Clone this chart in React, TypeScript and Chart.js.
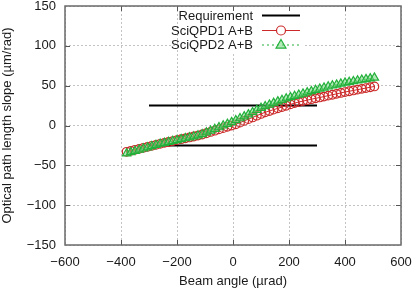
import React, { useEffect, useRef } from "react";
import { Chart, registerables } from "chart.js";

Chart.register(...registerables);

const xTicks = [-600, -400, -200, 0, 200, 400, 600];
const yTicks = [-150, -100, -50, 0, 50, 100, 150];

const requirementX = [-300, 300, 0, -300, 300];
const requirementY: (number | null)[] = [25, 25, null, -25, -25];

const beamAngle = [
  -380, -365, -350, -335, -320, -305, -290, -275, -260, -245, -230, -215, -200, -185, -170, -155, -140, -125, -110, -95,
  -80, -65, -50, -35, -20, -5, 10, 25, 40, 55, 70, 85, 100, 115, 130, 145, 160, 175, 190, 205,
  220, 235, 250, 265, 280, 295, 310, 325, 340, 355, 370, 385, 400, 415, 430, 445, 460, 475, 490, 505,
];

const sciQPD1 = [
  -33, -31.8, -30.5, -29.3, -28, -26.8, -25.5, -24.3, -23, -21.8, -20.7, -19.5, -18.4, -17.2, -16.1, -15, -13.8, -12.6, -11.3, -9.7,
  -8.1, -6.5, -4.9, -3.3, -1.7, -0.1, 1.5, 3.6, 5.8, 8, 10.1, 12.3, 14.5, 16.6, 18.2, 19.9, 21.5, 23.2, 24.8, 26.5,
  28.1, 29.5, 30.6, 31.8, 33, 34.1, 35.2, 36.3, 37.5, 38.6, 39.7, 40.9, 42, 43, 44, 45, 46, 47, 48, 49,
];

const sciQPD2 = [
  -35, -33.5, -32, -30.5, -29, -27.5, -26, -24.5, -23, -21.9, -20.7, -19.6, -18.4, -17.3, -16.1, -15, -13.8, -12.6, -11, -8.8,
  -6.6, -4.5, -2.3, -0.1, 2, 4.2, 6.6, 9, 11.4, 13.9, 16.6, 19.3, 22, 24.1, 26.2, 28.3, 30.2, 32, 33.8, 35.5,
  37, 38.5, 40, 41.5, 43, 44.5, 46, 47.5, 48.8, 50.1, 51.3, 52.5, 53.7, 54.6, 55.5, 56.4, 57.3, 58.2, 59.1, 60,
];

const labels = ["Requirement", "SciQPD1 A+B", "SciQPD2 A+B"];
const xTitle = "Beam angle (µrad)";
const yTitle = "Optical path length slope (µm/rad)";

const RED = "#cc2a2a";
const GREEN = "#22b03a";
const GREEN_FILL = "rgba(120,215,130,0.55)";
const FONT = "'Liberation Sans', Arial, sans-serif";

const fmt = (v: number) => (v < 0 ? "\u2212" + Math.abs(v) : String(v));

const framePlugin = {
  id: "frameAndKey",
  afterDatasetsDraw(chart: any) {
    const { ctx, chartArea: a, scales } = chart;
    const xs = scales.x;
    const ys = scales.y;
    ctx.save();
    // legend box (opaque)
    ctx.fillStyle = "#ffffff";
    ctx.fillRect(180, 7, 124, 46);
    ctx.font = "13px " + FONT;
    ctx.textAlign = "right";
    ctx.textBaseline = "middle";
    ctx.fillStyle = "#1a1a1a";
    const rows = [15.5, 30.5, 45];
    const ds = chart.data.datasets;
    rows.forEach((yy, i) => {
      ctx.fillText(ds[i].label, 253, yy + 0.5);
    });
    // Requirement sample
    ctx.strokeStyle = "#000";
    ctx.lineWidth = 2;
    ctx.beginPath();
    ctx.moveTo(262, rows[0]);
    ctx.lineTo(300, rows[0]);
    ctx.stroke();
    // SciQPD1 sample
    ctx.strokeStyle = RED;
    ctx.lineWidth = 1.2;
    ctx.beginPath();
    ctx.moveTo(262, rows[1]);
    ctx.lineTo(300, rows[1]);
    ctx.stroke();
    ctx.beginPath();
    ctx.arc(281, rows[1], 4.5, 0, Math.PI * 2);
    ctx.fillStyle = "#fff";
    ctx.fill();
    ctx.stroke();
    // SciQPD2 sample
    ctx.strokeStyle = GREEN;
    ctx.setLineDash([2, 3]);
    ctx.beginPath();
    ctx.moveTo(262, rows[2]);
    ctx.lineTo(300, rows[2]);
    ctx.stroke();
    ctx.setLineDash([]);
    ctx.beginPath();
    const r = 5.5;
    ctx.moveTo(281, rows[2] - r);
    ctx.lineTo(281 + r * 0.9, rows[2] + r * 0.55);
    ctx.lineTo(281 - r * 0.9, rows[2] + r * 0.55);
    ctx.closePath();
    ctx.fillStyle = GREEN_FILL;
    ctx.fill();
    ctx.stroke();

    // inward ticks
    ctx.strokeStyle = "#555";
    ctx.lineWidth = 1;
    ctx.beginPath();
    xTicks.slice(1, -1).forEach((v) => {
      const px = Math.round(xs.getPixelForValue(v)) + 0.5;
      ctx.moveTo(px, a.bottom);
      ctx.lineTo(px, a.bottom - 5);
      ctx.moveTo(px, a.top);
      ctx.lineTo(px, a.top + 5);
    });
    yTicks.slice(1, -1).forEach((v) => {
      const py = Math.round(ys.getPixelForValue(v)) + 0.5;
      ctx.moveTo(a.left, py);
      ctx.lineTo(a.left + 5, py);
      ctx.moveTo(a.right, py);
      ctx.lineTo(a.right - 5, py);
    });
    ctx.stroke();
    // frame
    ctx.strokeStyle = "#6a6a6a";
    ctx.lineWidth = 1.5;
    ctx.strokeRect(a.left, a.top, a.right - a.left, a.bottom - a.top);
    ctx.restore();
  },
};

export default function App() {
  const ref = useRef<HTMLCanvasElement | null>(null);
  useEffect(() => {
    if (!ref.current) return;
    const chart = new Chart(ref.current, {
      type: "line",
      data: {
        datasets: [
          {
            label: labels[0],
            data: requirementX.map((x, i) => ({ x, y: requirementY[i] })),
            borderColor: "#000",
            borderWidth: 2,
            pointRadius: 0,
            spanGaps: false,
            order: 3,
          },
          {
            label: labels[1],
            data: beamAngle.map((x, i) => ({ x, y: sciQPD1[i] })),
            borderColor: RED,
            borderWidth: 1,
            pointStyle: "circle",
            pointRadius: 4.3,
            pointBorderWidth: 1.2,
            pointBorderColor: RED,
            pointBackgroundColor: "rgba(255,255,255,0)",
            order: 2,
          },
          {
            label: labels[2],
            data: beamAngle.map((x, i) => ({ x, y: sciQPD2[i] })),
            borderColor: GREEN,
            borderWidth: 1,
            borderDash: [2, 3],
            pointStyle: "triangle",
            pointRadius: 4.8,
            pointBorderWidth: 1.2,
            pointBorderColor: GREEN,
            pointBackgroundColor: GREEN_FILL,
            order: 1,
          },
        ] as any,
      },
      options: {
        animation: false,
        responsive: false,
        devicePixelRatio: 1,
        layout: { padding: { top: 5, right: 14, left: 0, bottom: 0 } },
        plugins: { legend: { display: false }, tooltip: { enabled: false } },
        scales: {
          x: {
            type: "linear",
            min: -600,
            max: 600,
            afterFit: (s: any) => {
              s.height = 45;
              s.paddingLeft = 0;
              s.paddingRight = 0;
            },
            afterBuildTicks: (s: any) => {
              s.ticks = xTicks.map((v) => ({ value: v }));
            },
            ticks: {
              callback: (v: any) => fmt(Number(v)),
              font: { family: FONT, size: 13 },
              color: "#1a1a1a",
              padding: 10,
              maxRotation: 0,
              autoSkip: false,
            },
            grid: { color: "#c4c4c4", drawTicks: false, lineWidth: 1 },
            border: { display: false, dash: [2, 2] },
            title: {
              display: true,
              text: xTitle,
              font: { family: FONT, size: 13 },
              color: "#1a1a1a",
              padding: { top: 0, bottom: 1 },
            },
          },
          y: {
            type: "linear",
            min: -150,
            max: 150,
            afterFit: (s: any) => {
              s.width = 65;
              s.paddingTop = 0;
              s.paddingBottom = 0;
            },
            afterBuildTicks: (s: any) => {
              s.ticks = yTicks.map((v) => ({ value: v }));
            },
            ticks: {
              callback: (v: any) => fmt(Number(v)),
              font: { family: FONT, size: 13 },
              color: "#1a1a1a",
              padding: 9,
              autoSkip: false,
            },
            grid: { color: "#c4c4c4", drawTicks: false, lineWidth: 1 },
            border: { display: false, dash: [2, 2] },
            title: {
              display: true,
              text: yTitle,
              font: { family: FONT, size: 13 },
              color: "#1a1a1a",
              padding: { top: 0, bottom: 0 },
            },
          },
        },
      },
      plugins: [framePlugin],
    });
    return () => chart.destroy();
  }, []);
  return (
    <div style={{ position: "absolute", left: 0, top: 0, width: 415, height: 290, background: "#fff" }}>
      <canvas ref={ref} width={415} height={290} style={{ width: 415, height: 290, display: "block" }} />
    </div>
  );
}
